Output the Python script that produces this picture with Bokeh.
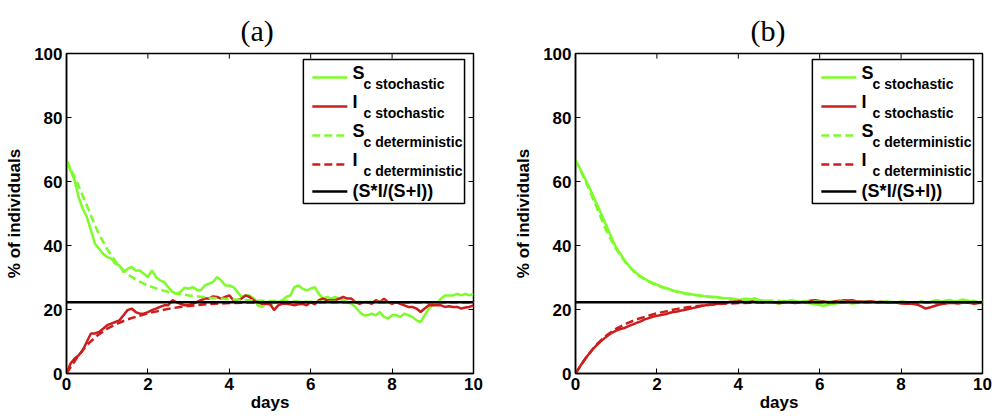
from bokeh.plotting import figure
from bokeh.layouts import row
from bokeh.models import Range1d, FixedTicker
from bokeh.embed import file_html
from bokeh.resources import INLINE
from bokeh.core.properties import value

# ---------------- data ----------------
t_stoch = [round(0.1 * i, 1) for i in range(101)]

S_stoch_a = [66.7, 63.4, 60.3, 55.0, 51.5, 48.9, 44.7, 40.5, 39.0, 37.4,
             36.4, 35.9, 34.3, 33.8, 31.7, 32.7, 33.3, 32.2, 32.2, 31.2,
             30.1, 32.2, 30.1, 29.1, 28.6, 27.0, 25.5, 24.9, 25.5, 26.8,
             26.5, 27.0, 26.2, 26.0, 27.5, 28.1, 28.6, 30.1, 29.1, 27.5,
             27.5, 27.0, 25.5, 23.9, 24.4, 24.4, 23.4, 21.3, 20.8, 21.8,
             21.3, 22.3, 22.3, 22.9, 23.9, 24.4, 27.0, 27.5, 26.5, 26.0,
             26.5, 27.0, 24.9, 23.4, 23.9, 23.4, 23.9, 23.4, 22.9, 22.3,
             21.8, 20.8, 19.2, 18.2, 18.2, 18.7, 18.2, 19.2, 17.7, 17.2,
             18.2, 18.2, 17.7, 18.7, 18.2, 17.7, 16.6, 16.1, 18.2, 20.3,
             21.3, 21.8, 23.4, 24.4, 24.4, 24.4, 24.9, 24.4, 24.9, 24.4,
             24.9]

I_stoch_a = [0.0, 3.1, 4.7, 5.7, 7.3, 9.9, 12.5, 12.5, 13.0, 14.0,
             15.1, 15.6, 16.1, 16.6, 18.2, 19.8, 20.3, 19.2, 18.7, 18.7,
             19.2, 19.8, 20.3, 20.8, 21.3, 21.3, 22.9, 22.3, 21.8, 21.3,
             21.3, 21.8, 22.3, 22.9, 23.4, 23.4, 24.1, 23.9, 23.4, 23.9,
             24.4, 22.9, 22.9, 23.4, 24.4, 23.9, 22.9, 22.3, 21.8, 21.8,
             21.8, 19.8, 21.3, 21.8, 21.8, 21.6, 21.3, 21.6, 21.8, 21.3,
             22.3, 21.6, 22.9, 23.4, 22.9, 22.9, 22.9, 23.4, 23.9, 23.4,
             23.4, 22.3, 21.8, 22.3, 22.3, 21.8, 22.9, 22.3, 23.4, 22.3,
             21.8, 22.3, 21.8, 21.3, 20.8, 20.8, 20.3, 19.2, 20.3, 21.3,
             21.3, 21.3, 21.3, 20.8, 21.0, 20.8, 20.8, 20.3, 20.6, 20.8,
             21.3]

S_stoch_b = [66.7, 64.3, 61.8, 59.2, 56.5, 53.6, 50.8, 47.9, 45.0, 42.0,
             39.3, 37.4, 35.5, 33.8, 32.5, 31.3, 30.4, 29.6, 28.9, 28.3,
             27.8, 27.2, 26.8, 26.4, 25.9, 25.6, 25.3, 25.0, 24.9, 24.6,
             24.5, 24.3, 24.1, 23.9, 24.0, 23.8, 23.6, 23.5, 23.4, 23.2,
             23.0, 23.2, 23.4, 23.1, 23.5, 23.0, 22.8, 22.6, 22.4, 22.2,
             21.8, 22.3, 22.6, 22.9, 22.7, 22.4, 22.2, 22.0, 21.9, 21.6,
             21.4, 21.2, 21.5, 21.7, 21.9, 22.1, 22.3, 22.1, 21.9, 22.0,
             22.2, 22.4, 22.5, 22.3, 22.1, 22.3, 22.5, 22.4, 22.2, 22.3,
             22.5, 22.4, 22.1, 22.0, 22.3, 22.6, 22.1, 22.2, 22.8, 22.9,
             22.4, 22.8, 23.0, 22.5, 22.7, 23.1, 22.9, 22.6, 22.7, 22.3,
             22.4]

I_stoch_b = [0.0, 2.0, 3.9, 5.6, 7.2, 8.6, 9.8, 10.9, 11.9, 12.8,
             13.4, 13.9, 14.2, 14.8, 15.3, 15.8, 16.3, 16.9, 17.3, 17.7,
             18.0, 18.3, 18.5, 18.9, 19.2, 19.4, 19.7, 19.9, 20.2, 20.5,
             20.8, 21.1, 21.3, 21.5, 21.6, 21.8, 22.0, 22.1, 22.4, 22.5,
             22.7, 22.5, 22.2, 22.4, 22.6, 22.3, 22.1, 22.3, 22.4, 22.2,
             22.0, 22.1, 22.3, 22.2, 22.0, 22.2, 22.4, 22.6, 22.8, 22.9,
             22.7, 22.5, 22.3, 22.4, 22.6, 22.7, 22.9, 22.8, 22.9, 22.6,
             22.5, 22.4, 22.6, 22.5, 22.3, 22.4, 22.2, 22.1, 22.3, 22.1,
             21.9, 21.8, 21.9, 21.7, 21.5, 21.0, 20.3, 20.6, 21.0, 21.4,
             21.7, 21.9, 22.1, 22.0, 21.9, 22.1, 22.2, 22.0, 21.8, 22.0,
             22.1]

t_det = [0.0, 0.25, 0.5, 0.75, 1.0, 1.25, 1.5, 1.75, 2.0, 2.25, 2.5, 2.75,
         3.0, 3.5, 4.0, 4.5, 5.0, 6.0, 7.0, 8.0, 9.0, 10.0]
S_det = [66.7, 60.0, 52.5, 44.8, 38.8, 34.3, 31.0, 29.0, 27.5, 26.4, 25.5, 24.9,
         24.4, 23.7, 23.2, 22.9, 22.7, 22.45, 22.35, 22.3, 22.3, 22.3]
I_det = [0.0, 4.8, 8.9, 11.8, 14.0, 15.6, 16.9, 17.9, 18.8, 19.5, 20.2, 20.7,
         21.1, 21.7, 22.0, 22.2, 22.3, 22.3, 22.3, 22.3, 22.3, 22.3]

equilibrium = 22.3

x_ticks = [0, 2, 4, 6, 8, 10]
y_ticks = [0, 20, 40, 60, 80, 100]

legend_labels_main = ["S", "I", "S", "I", "(S*I/(S+I))"]
legend_labels_sub = ["c stochastic", "c stochastic", "c deterministic", "c deterministic"]

panel_titles = ["(a)", "(b)"]

# ---------------- style ----------------
GREEN = "#7dfc2a"
RED = "#cc1e1e"
BLACK = "#000000"
FONT = "Liberation Sans"
LW = 2.5


def make_panel(title, S_st, I_st, border_left, border_right, width, title_offset):
    p = figure(width=width, height=419,
               x_range=Range1d(0, 10), y_range=Range1d(0, 100),
               output_backend="svg", toolbar_location=None,
               min_border_left=border_left, min_border_right=border_right,
               min_border_top=53, min_border_bottom=46)
    p.grid.visible = False
    p.outline_line_color = BLACK
    p.outline_line_width = 1.5
    p.background_fill_color = "white"
    p.border_fill_color = "white"

    p.title.text = title
    p.title.text_font = "Liberation Serif"
    p.title.text_font_style = "normal"
    p.title.text_font_size = "30px"
    p.title.text_color = BLACK
    p.title.align = "left"
    p.title.offset = title_offset
    p.title.standoff = 13

    for ax in (p.xaxis[0], p.yaxis[0]):
        ax.axis_line_color = BLACK
        ax.axis_line_width = 1.5
        ax.major_tick_in = 5
        ax.major_tick_out = 0
        ax.minor_tick_line_color = None
        ax.major_tick_line_color = BLACK
        ax.major_label_text_font = FONT
        ax.major_label_text_font_style = "bold"
        ax.major_label_text_font_size = "17px"
        ax.major_label_text_color = BLACK
        ax.axis_label_text_font = FONT
        ax.axis_label_text_font_style = "bold"
        ax.axis_label_text_font_size = "17px"
        ax.axis_label_text_color = BLACK
    p.xaxis[0].ticker = FixedTicker(ticks=x_ticks)
    p.yaxis[0].ticker = FixedTicker(ticks=y_ticks)
    p.xaxis[0].axis_label = "days"
    p.yaxis[0].axis_label = "% of individuals"
    p.xaxis[0].major_label_standoff = 4
    p.xaxis[0].axis_label_standoff = 0
    p.yaxis[0].major_label_standoff = 4
    p.yaxis[0].axis_label_standoff = 7

    # mirrored inward tick marks on the top and right edges of the box
    p.segment(x0=x_ticks, y0=[100] * len(x_ticks), x1=x_ticks, y1=[98.4] * len(x_ticks),
              line_color=BLACK, line_width=1)
    p.segment(x0=[10] * len(y_ticks), y0=y_ticks, x1=[9.877] * len(y_ticks), y1=y_ticks,
              line_color=BLACK, line_width=1)

    # data
    p.line(t_stoch, S_st, line_color=GREEN, line_width=LW)
    p.line(t_stoch, I_st, line_color=RED, line_width=LW)
    p.line(t_det, S_det, line_color=GREEN, line_width=LW, line_dash="8 4")
    p.line(t_det, I_det, line_color=RED, line_width=LW, line_dash="8 4")
    p.line([0, 10], [equilibrium, equilibrium], line_color=BLACK, line_width=LW)

    # legend box (layout in axis units)
    p.quad(left=[5.82], right=[9.78], bottom=[53.1], top=[98.1],
           fill_color="white", line_color=BLACK, line_width=1.5)
    row_y = [92.5, 83.4, 74.4, 65.3, 56.9]
    colors = [GREEN, RED, GREEN, RED, BLACK]
    dashes = ["solid", "solid", "8 4", "8 4", "solid"]
    for yy, c, d in zip(row_y, colors, dashes):
        p.line([6.04, 6.90], [yy, yy], line_color=c, line_width=LW, line_dash=d)
    main_y = [yy + 1.3 for yy in row_y[:4]] + [row_y[4]]
    p.text(x=[7.03] * 5, y=main_y, text=legend_labels_main,
           text_font=value(FONT), text_font_style="bold", text_font_size="18px",
           text_baseline="middle", text_align="left", text_color=BLACK)
    p.text(x=[7.30] * 4, y=[yy - 2.1 for yy in row_y[:4]], text=legend_labels_sub,
           text_font=value(FONT), text_font_style="bold", text_font_size="14px",
           text_baseline="middle", text_align="left", text_color=BLACK)
    return p


pa = make_panel(panel_titles[0], S_stoch_a, I_stoch_a, 66, 23, 496, 174)
pb = make_panel(panel_titles[1], S_stoch_b, I_stoch_b, 79, 10, 496, 175)

layout = row(pa, pb)
open("out.html", "w").write(file_html(layout, INLINE))
